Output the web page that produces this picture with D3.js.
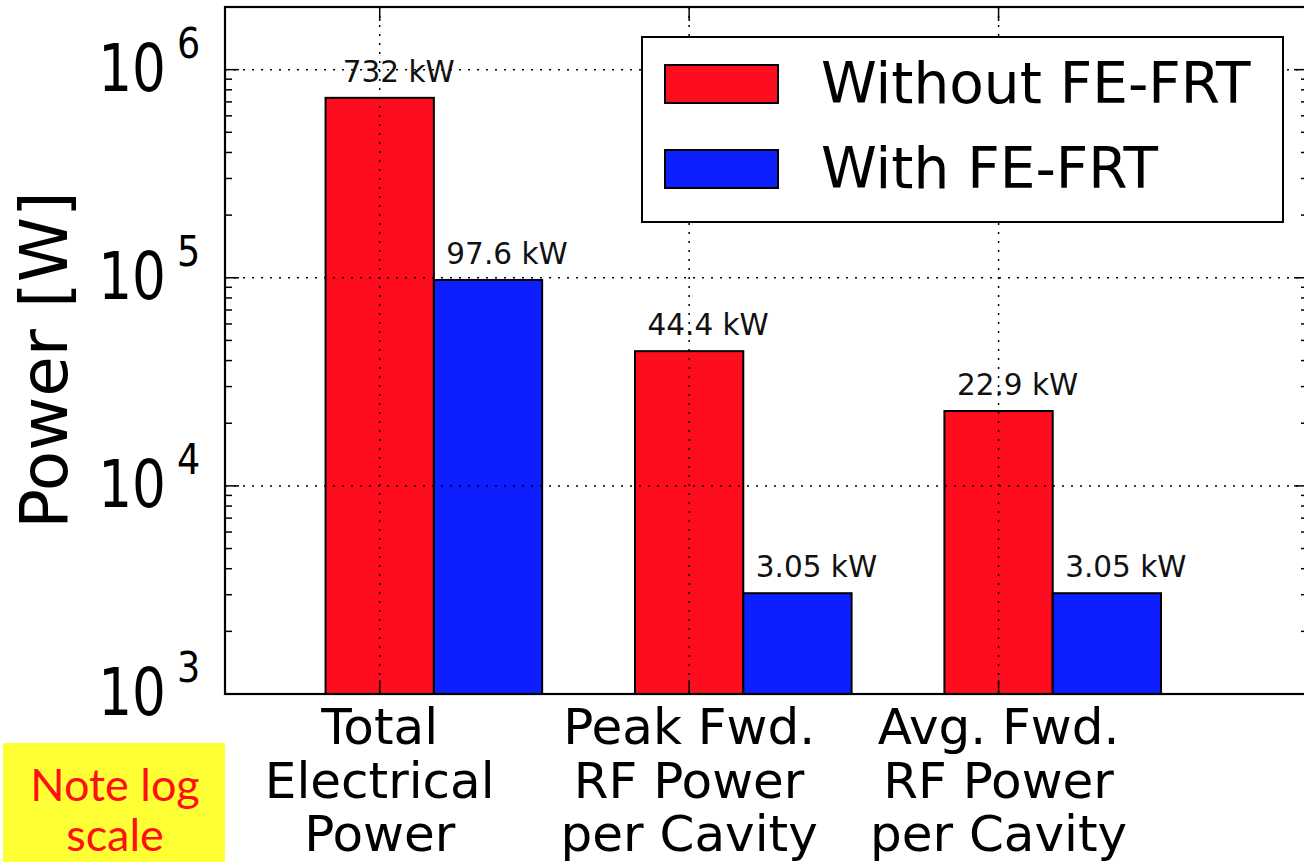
<!DOCTYPE html>
<html><head><meta charset="utf-8">
<script src="https://cdn.jsdelivr.net/npm/d3@7"></script>
<style>body{margin:0;background:#fff} svg{display:block}</style>
</head><body><svg id="c" width="1304" height="862"></svg>
<script>
// ---- data ----
const categories = [["Total","Electrical","Power"],["Peak Fwd.","RF Power","per Cavity"],["Avg. Fwd.","RF Power","per Cavity"]];
const seriesNames = ["Without FE-FRT","With FE-FRT"];
const withoutFRT = [732000, 44400, 22900];
const withFRT = [97600, 3050, 3050];
const withoutLabels = ["732 kW","44.4 kW","22.9 kW"];
const withLabels = ["97.6 kW","3.05 kW","3.05 kW"];
const yTickExps = [3,4,5,6];
const yLabel = "Power [W]";
const noteLines = ["Note log","scale"];
const colors = ["#fe0d1f","#0d1ffe"];

// ---- layout ----
const svg = d3.select("#c");
const font = "'DejaVu Sans', sans-serif";
const L = 225, R = 1308, T = 7, B = 694;
const x = d3.scaleLinear().domain([-0.5, 3]).range([L, R]);
const y = d3.scaleLog().domain([1e3, 2e6]).range([B, T]);
const bw = 0.35;

svg.append("rect").attr("width",1304).attr("height",862).attr("fill","#fff");

const series = [withoutFRT, withFRT];
const labels = [withoutLabels, withLabels];
const plot = svg.append("g");

series.forEach((vals, s) => {
  plot.selectAll(null).data(vals).enter().append("rect")
    .attr("x", (d,i) => x(i - bw/2 + s*bw))
    .attr("width", (d,i) => x(i + bw/2 + s*bw) - x(i - bw/2 + s*bw))
    .attr("y", d => y(d))
    .attr("height", d => B - y(d))
    .attr("fill", colors[s]).attr("stroke","#000").attr("stroke-width",2);
});

// value labels
series.forEach((vals, s) => {
  plot.selectAll(null).data(vals).enter().append("text")
    .attr("x", (d,i) => x(i + s*bw) + 19)
    .attr("y", d => y(d) - 16)
    .attr("text-anchor","middle")
    .attr("font-family",font).attr("font-size",29.5).attr("fill","#111")
    .text((d,i) => labels[s][i]);
});

// grid
const grid = svg.append("g").attr("stroke","#000").attr("stroke-width",1.5).attr("stroke-dasharray","2,7");
yTickExps.filter(e => e > 3).forEach(e => {
  grid.append("line").attr("x1",L).attr("x2",R).attr("y1",y(Math.pow(10,e))).attr("y2",y(Math.pow(10,e)));
});
categories.forEach((c,i) => {
  grid.append("line").attr("x1",x(i)).attr("x2",x(i)).attr("y1",T).attr("y2",B);
});

// ticks
const ticks = svg.append("g").attr("stroke","#000").attr("stroke-width",1.5);
const minor = [];
for (let e = 3; e <= 6; e++) for (let m = 2; m <= 9; m++) { const v = m*Math.pow(10,e); if (v < 2e6) minor.push(v); }
minor.forEach(v => {
  ticks.append("line").attr("x1",L).attr("x2",L+7).attr("y1",y(v)).attr("y2",y(v));
  ticks.append("line").attr("x1",R).attr("x2",R-7).attr("y1",y(v)).attr("y2",y(v));
});
yTickExps.forEach(e => {
  const v = Math.pow(10,e);
  ticks.append("line").attr("x1",L).attr("x2",L+14).attr("y1",y(v)).attr("y2",y(v));
  ticks.append("line").attr("x1",R).attr("x2",R-14).attr("y1",y(v)).attr("y2",y(v));
});
categories.forEach((c,i) => {
  ticks.append("line").attr("x1",x(i)).attr("x2",x(i)).attr("y1",B).attr("y2",B-14);
  ticks.append("line").attr("x1",x(i)).attr("x2",x(i)).attr("y1",T).attr("y2",T+14);
});

// spines
svg.append("rect").attr("x",L).attr("y",T).attr("width",R-L).attr("height",B-T)
  .attr("fill","none").attr("stroke","#000").attr("stroke-width",2.2);

// y tick labels
yTickExps.forEach(e => {
  const yy = y(Math.pow(10,e));
  svg.append("text").attr("transform",`translate(166,${yy+21}) scale(0.82,1)`)
    .attr("text-anchor","end").attr("font-family",font).attr("font-size",65).attr("fill","#000").text("10");
  svg.append("text").attr("transform",`translate(177,${yy-12}) scale(0.85,1)`)
    .attr("text-anchor","start").attr("font-family",font).attr("font-size",43).attr("fill","#000").text(String(e));
});

// y axis label
svg.append("text").attr("transform","translate(67,360) rotate(-90)")
  .attr("text-anchor","middle").attr("font-family",font).attr("font-size",66).attr("fill","#000").text(yLabel);

// x tick labels
categories.forEach((lines,i) => {
  const t = svg.append("text").attr("text-anchor","middle").attr("font-family",font).attr("font-size",50).attr("fill","#000");
  lines.forEach((ln,k) => t.append("tspan").attr("x",x(i)).attr("y",744 + k*53.5).text(ln));
});

// legend
const lg = svg.append("g");
lg.append("rect").attr("x",642).attr("y",37).attr("width",641).attr("height",185)
  .attr("fill","#fff").attr("stroke","#000").attr("stroke-width",2);
seriesNames.forEach((n,s) => {
  const base = [103,188][s];
  lg.append("rect").attr("x",665).attr("y",base-38).attr("width",113).attr("height",38)
    .attr("fill",colors[s]).attr("stroke","#000").attr("stroke-width",2);
  lg.append("text").attr("x",821).attr("y",base).attr("font-family",font).attr("font-size",56.5).attr("fill","#000").text(n);
});

// note box
svg.append("rect").attr("x",3).attr("y",743).attr("width",222).attr("height",130).attr("fill","#ffff35");
noteLines.forEach((ln,k) => {
  svg.append("text").attr("x",115).attr("y",801 + k*50).attr("text-anchor","middle")
    .attr("font-family","Lato, 'Open Sans', sans-serif").attr("font-size",45).attr("fill","#ff1010").text(ln);
});
</script></body></html>
